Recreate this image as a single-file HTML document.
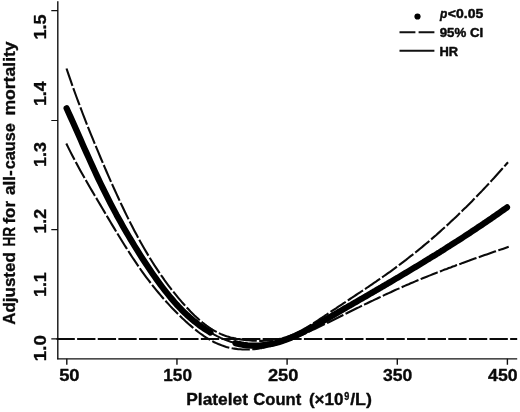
<!DOCTYPE html>
<html><head><meta charset="utf-8"><title>chart</title>
<style>
html,body{margin:0;padding:0;background:#fff;}
svg{display:block;will-change:transform;}
text{font-family:"Liberation Sans",sans-serif;font-weight:bold;fill:#0a0a0a;}
text{stroke:#0a0a0a;stroke-width:0.35px;stroke-linejoin:round;}
.lg text{stroke-width:0.45px;}
</style></head>
<body>
<svg width="520" height="412" viewBox="0 0 520 412">
<rect width="520" height="412" fill="#ffffff"/>
<g stroke="#111" fill="none">
<path d="M57.8,1.2 V359.3" stroke-width="1.4"/>
<path d="M57.1,358.8 H517.2" stroke-width="1.3"/>
<path d="M51.3,10.6 H58 M51.3,120.5 H58 M51.3,229.6 H58 M51.3,338.8 H58" stroke-width="1.2"/>
<path d="M66.8,358.7 V364.8 M176.95,358.7 V364.8 M287.1,358.7 V364.8 M397.3,358.7 V364.8 M507.4,358.7 V364.8" stroke-width="1.4"/>
</g>
<path d="M56.5,339.05 H517.2" stroke="#0a0a0a" stroke-width="2.0" stroke-dasharray="18.32 2.3" fill="none"/>
<g stroke="#0a0a0a" fill="none" stroke-width="2.1" stroke-dasharray="18.3 2.4">
<path d="M66.5,68.5 L68.5,74.4 L70.5,80.2 L72.5,85.9 L74.5,91.5 L76.5,97.0 L78.5,102.4 L80.5,107.7 L82.5,113.0 L84.5,118.2 L86.5,123.3 L88.5,128.3 L90.5,133.3 L92.5,138.2 L94.5,143.1 L96.5,147.9 L98.5,152.7 L100.5,157.5 L102.5,162.2 L104.5,166.8 L106.5,171.5 L108.5,176.1 L110.5,180.6 L112.5,185.1 L114.5,189.5 L116.5,193.9 L118.5,198.3 L120.5,202.6 L122.5,206.8 L124.5,211.0 L126.5,215.1 L128.5,219.1 L130.5,223.1 L132.5,227.0 L134.5,230.9 L136.5,234.6 L138.5,238.4 L140.5,242.0 L142.5,245.5 L144.5,249.0 L146.5,252.4 L148.5,255.8 L150.5,259.0 L152.5,262.2 L154.5,265.4 L156.5,268.4 L158.5,271.4 L160.5,274.4 L162.5,277.2 L164.5,280.1 L166.5,282.8 L168.5,285.5 L170.5,288.1 L172.5,290.7 L174.5,293.2 L176.5,295.7 L178.5,298.1 L180.5,300.4 L182.5,302.8 L184.5,305.0 L186.5,307.2 L188.5,309.3 L190.5,311.4 L192.5,313.4 L194.5,315.4 L196.5,317.3 L198.5,319.1 L200.5,320.8 L202.5,322.5 L204.5,324.1 L206.5,325.6 L208.5,327.0 L210.5,328.4 L212.5,329.7 L214.5,330.8 L216.5,331.9 L218.5,332.9 L220.5,333.9 L222.5,334.7 L224.5,335.5 L226.5,336.2 L228.5,336.8 L230.5,337.4 L232.5,337.9 L234.5,338.3 L236.5,338.7 L238.5,339.1 L240.5,339.4 L242.5,339.7 L244.5,339.9 L246.5,340.1 L248.5,340.3 L250.5,340.5 L252.5,340.6 L254.5,340.7 L256.5,340.8 L258.5,340.9 L260.5,340.9 L262.0,340.9"/>
<path d="M66.3,143.5 L68.3,147.6 L70.3,151.6 L72.3,155.5 L74.3,159.3 L76.3,163.1 L78.3,166.8 L80.3,170.4 L82.3,174.0 L84.3,177.5 L86.3,181.0 L88.3,184.5 L90.3,188.0 L92.3,191.4 L94.3,194.8 L96.3,198.1 L98.3,201.5 L100.3,204.9 L102.3,208.3 L104.3,211.6 L106.3,215.0 L108.3,218.4 L110.3,221.7 L112.3,225.1 L114.3,228.4 L116.3,231.7 L118.3,235.0 L120.3,238.3 L122.3,241.5 L124.3,244.7 L126.3,247.9 L128.3,251.0 L130.3,254.1 L132.3,257.2 L134.3,260.2 L136.3,263.2 L138.3,266.1 L140.3,269.0 L142.3,271.8 L144.3,274.6 L146.3,277.3 L148.3,279.9 L150.3,282.5 L152.3,285.1 L154.3,287.6 L156.3,290.1 L158.3,292.5 L160.3,294.9 L162.3,297.2 L164.3,299.5 L166.3,301.7 L168.3,303.9 L170.3,306.1 L172.3,308.2 L174.3,310.2 L176.3,312.3 L178.3,314.3 L180.3,316.2 L182.3,318.2 L184.3,320.0 L186.3,321.9 L188.3,323.7 L190.3,325.4 L192.3,327.1 L194.3,328.8 L196.3,330.4 L198.3,332.0 L200.3,333.5 L202.3,334.9 L204.3,336.3 L206.3,337.6 L208.3,338.8 L210.3,340.0 L212.3,341.1 L214.3,342.2 L216.3,343.1 L218.3,344.0 L220.3,344.8 L222.3,345.6 L224.3,346.2 L226.3,346.9 L228.3,347.4 L230.3,347.9 L232.3,348.3 L234.3,348.6 L236.3,348.9 L238.3,349.2 L240.3,349.3 L242.3,349.5 L244.3,349.5 L246.3,349.5 L248.3,349.5 L250.3,349.4 L252.3,349.3 L254.3,349.1 L256.3,348.9 L258.3,348.6 L260.3,348.3 L262.0,348.1"/>
<path d="M508.0,162.2 L506.0,164.5 L504.0,166.8 L502.0,169.0 L500.0,171.3 L498.0,173.5 L496.0,175.8 L494.0,178.0 L492.0,180.1 L490.0,182.3 L488.0,184.5 L486.0,186.6 L484.0,188.7 L482.0,190.9 L480.0,192.9 L478.0,195.0 L476.0,197.1 L474.0,199.1 L472.0,201.2 L470.0,203.2 L468.0,205.2 L466.0,207.2 L464.0,209.1 L462.0,211.1 L460.0,213.0 L458.0,215.0 L456.0,216.9 L454.0,218.8 L452.0,220.6 L450.0,222.5 L448.0,224.4 L446.0,226.2 L444.0,228.0 L442.0,229.8 L440.0,231.6 L438.0,233.4 L436.0,235.2 L434.0,236.9 L432.0,238.6 L430.0,240.4 L428.0,242.1 L426.0,243.7 L424.0,245.4 L422.0,247.1 L420.0,248.7 L418.0,250.4 L416.0,252.0 L414.0,253.6 L412.0,255.2 L410.0,256.7 L408.0,258.3 L406.0,259.9 L404.0,261.4 L402.0,262.9 L400.0,264.4 L398.0,265.9 L396.0,267.4 L394.0,268.9 L392.0,270.3 L390.0,271.8 L388.0,273.2 L386.0,274.6 L384.0,276.0 L382.0,277.4 L380.0,278.8 L378.0,280.2 L376.0,281.6 L374.0,282.9 L372.0,284.3 L370.0,285.7 L368.0,287.0 L366.0,288.4 L364.0,289.7 L362.0,291.0 L360.0,292.4 L358.0,293.7 L356.0,295.0 L354.0,296.3 L352.0,297.7 L350.0,299.0 L348.0,300.3 L346.0,301.6 L344.0,303.0 L342.0,304.3 L340.0,305.6 L338.0,306.9 L336.0,308.3 L334.0,309.6 L332.0,310.9 L330.0,312.3 L328.0,313.6 L326.0,315.0 L324.0,316.3 L322.0,317.7 L320.0,319.0 L318.0,320.3 L316.0,321.6 L314.0,322.9 L312.0,324.2 L310.0,325.4 L308.0,326.6 L306.0,327.8 L304.0,329.0 L302.0,330.1 L300.0,331.1 L298.0,332.2 L296.0,333.2 L294.0,334.1 L292.0,335.0 L290.0,335.8 L288.0,336.5 L286.0,337.2 L284.0,337.8 L282.0,338.4 L280.0,338.9 L278.0,339.3 L276.0,339.7 L274.0,340.0 L272.0,340.3 L270.0,340.5 L268.0,340.7 L266.0,340.8 L264.0,340.8 L262.0,340.9" stroke-dashoffset="12.8"/>
<path d="M508.7,246.8 L506.7,247.5 L504.7,248.2 L502.7,248.9 L500.7,249.6 L498.7,250.2 L496.7,250.9 L494.7,251.6 L492.7,252.3 L490.7,253.0 L488.7,253.7 L486.7,254.4 L484.7,255.1 L482.7,255.8 L480.7,256.5 L478.7,257.2 L476.7,257.9 L474.7,258.6 L472.7,259.3 L470.7,260.0 L468.7,260.8 L466.7,261.5 L464.7,262.2 L462.7,262.9 L460.7,263.7 L458.7,264.4 L456.7,265.1 L454.7,265.9 L452.7,266.6 L450.7,267.4 L448.7,268.1 L446.7,268.9 L444.7,269.6 L442.7,270.4 L440.7,271.2 L438.7,272.0 L436.7,272.7 L434.7,273.5 L432.7,274.3 L430.7,275.1 L428.7,275.9 L426.7,276.7 L424.7,277.5 L422.7,278.3 L420.7,279.1 L418.7,280.0 L416.7,280.8 L414.7,281.6 L412.7,282.5 L410.7,283.3 L408.7,284.2 L406.7,285.0 L404.7,285.9 L402.7,286.8 L400.7,287.7 L398.7,288.6 L396.7,289.4 L394.7,290.3 L392.7,291.2 L390.7,292.2 L388.7,293.1 L386.7,294.0 L384.7,294.9 L382.7,295.9 L380.7,296.8 L378.7,297.7 L376.7,298.7 L374.7,299.6 L372.7,300.6 L370.7,301.5 L368.7,302.5 L366.7,303.5 L364.7,304.4 L362.7,305.4 L360.7,306.4 L358.7,307.4 L356.7,308.3 L354.7,309.3 L352.7,310.3 L350.7,311.3 L348.7,312.3 L346.7,313.3 L344.7,314.2 L342.7,315.2 L340.7,316.2 L338.7,317.2 L336.7,318.2 L334.7,319.2 L332.7,320.2 L330.7,321.2 L328.7,322.2 L326.7,323.2 L324.7,324.1 L322.7,325.1 L320.7,326.1 L318.7,327.1 L316.7,328.0 L314.7,329.0 L312.7,329.9 L310.7,330.9 L308.7,331.8 L306.7,332.7 L304.7,333.6 L302.7,334.5 L300.7,335.4 L298.7,336.3 L296.7,337.1 L294.7,338.0 L292.7,338.8 L290.7,339.6 L288.7,340.3 L286.7,341.1 L284.7,341.8 L282.7,342.5 L280.7,343.2 L278.7,343.8 L276.7,344.5 L274.7,345.1 L272.7,345.6 L270.7,346.1 L268.7,346.6 L266.7,347.1 L264.7,347.5 L262.7,347.9 L262.0,348.1" stroke-dashoffset="7.3"/>
</g>
<path d="M66.6,108.3 L68.6,112.7 L70.6,117.1 L72.6,121.6 L74.6,126.1 L76.6,130.6 L78.6,135.1 L80.6,139.6 L82.6,144.2 L84.6,148.7 L86.6,153.1 L88.6,157.6 L90.6,162.0 L92.6,166.4 L94.6,170.8 L96.6,175.1 L98.6,179.4 L100.6,183.5 L102.6,187.7 L104.6,191.7 L106.6,195.7 L108.6,199.7 L110.6,203.6 L112.6,207.4 L114.6,211.1 L116.6,214.9 L118.6,218.5 L120.6,222.1 L122.6,225.7 L124.6,229.2 L126.6,232.6 L128.6,236.0 L130.6,239.4 L132.6,242.7 L134.6,246.0 L136.6,249.2 L138.6,252.4 L140.6,255.6 L142.6,258.7 L144.6,261.8 L146.6,264.8 L148.6,267.8 L150.6,270.8 L152.6,273.7 L154.6,276.6 L156.6,279.4 L158.6,282.1 L160.6,284.8 L162.6,287.5 L164.6,290.1 L166.6,292.6 L168.6,295.1 L170.6,297.6 L172.6,299.9 L174.6,302.2 L176.6,304.5 L178.6,306.6 L180.6,308.7 L182.6,310.8 L184.6,312.7 L186.6,314.6 L188.6,316.4 L190.6,318.2 L192.6,319.9 L194.6,321.6 L196.6,323.1 L198.6,324.7 L200.6,326.1 L202.6,327.5 L204.6,328.9 L206.6,330.2 L208.6,331.4 L210.6,332.6 L212.6,333.7 L214.6,334.8 L216.6,335.9 L218.6,336.8 L220.6,337.8 L222.6,338.7 L224.6,339.5 L226.6,340.3 L228.6,341.0 L230.6,341.7 L232.6,342.3 L234.6,342.9 L236.6,343.5 L238.6,343.9 L240.6,344.3 L242.6,344.7 L244.6,345.0 L246.6,345.3 L248.6,345.5 L250.6,345.6 L252.6,345.7 L254.6,345.7 L256.6,345.7 L258.6,345.6 L260.6,345.5 L262.6,345.3 L264.6,345.1 L266.6,344.8 L268.6,344.5 L270.6,344.1 L272.6,343.7 L274.6,343.2 L276.6,342.7 L278.6,342.1 L280.6,341.5 L282.6,340.9 L284.6,340.2 L286.6,339.5 L288.6,338.7 L290.6,337.9 L292.6,337.0 L294.6,336.2 L296.6,335.2 L298.6,334.3 L300.6,333.3 L302.6,332.3 L304.6,331.3 L306.6,330.3 L308.6,329.2 L310.6,328.1 L312.6,327.0 L314.6,325.9 L316.6,324.8 L318.6,323.7 L320.6,322.5 L322.6,321.4 L324.6,320.2 L326.6,319.0 L328.6,317.9 L330.6,316.7 L332.6,315.5 L334.6,314.4 L336.6,313.2 L338.6,312.0 L340.6,310.9 L342.6,309.7 L344.6,308.6 L346.6,307.4 L348.6,306.3 L350.6,305.1 L352.6,303.9 L354.6,302.8 L356.6,301.6 L358.6,300.5 L360.6,299.3 L362.6,298.1 L364.6,297.0 L366.6,295.8 L368.6,294.7 L370.6,293.5 L372.6,292.3 L374.6,291.2 L376.6,290.0 L378.6,288.9 L380.6,287.7 L382.6,286.5 L384.6,285.4 L386.6,284.2 L388.6,283.0 L390.6,281.8 L392.6,280.7 L394.6,279.5 L396.6,278.3 L398.6,277.1 L400.6,275.9 L402.6,274.7 L404.6,273.6 L406.6,272.4 L408.6,271.2 L410.6,270.0 L412.6,268.8 L414.6,267.6 L416.6,266.3 L418.6,265.1 L420.6,263.9 L422.6,262.7 L424.6,261.5 L426.6,260.3 L428.6,259.0 L430.6,257.8 L432.6,256.6 L434.6,255.3 L436.6,254.1 L438.6,252.8 L440.6,251.6 L442.6,250.3 L444.6,249.1 L446.6,247.8 L448.6,246.5 L450.6,245.3 L452.6,244.0 L454.6,242.7 L456.6,241.4 L458.6,240.2 L460.6,238.9 L462.6,237.6 L464.6,236.3 L466.6,235.0 L468.6,233.6 L470.6,232.3 L472.6,231.0 L474.6,229.7 L476.6,228.3 L478.6,227.0 L480.6,225.7 L482.6,224.3 L484.6,223.0 L486.6,221.6 L488.6,220.3 L490.6,218.9 L492.6,217.5 L494.6,216.1 L496.6,214.7 L498.6,213.4 L500.6,212.0 L502.6,210.5 L504.6,209.1 L506.6,207.7 L507.0,207.4" stroke="#0a0a0a" stroke-width="2" fill="none"/>
<g stroke="#000" fill="none" stroke-width="6.2" stroke-linecap="round" stroke-linejoin="round">
<path d="M66.6,108.3 L68.6,112.7 L70.6,117.1 L72.6,121.6 L74.6,126.1 L76.6,130.6 L78.6,135.1 L80.6,139.6 L82.6,144.2 L84.6,148.7 L86.6,153.1 L88.6,157.6 L90.6,162.0 L92.6,166.4 L94.6,170.8 L96.6,175.1 L98.6,179.4 L100.6,183.5 L102.6,187.7 L104.6,191.7 L106.6,195.7 L108.6,199.7 L110.6,203.6 L112.6,207.4 L114.6,211.1 L116.6,214.9 L118.6,218.5 L120.6,222.1 L122.6,225.7 L124.6,229.2 L126.6,232.6 L128.6,236.0 L130.6,239.4 L132.6,242.7 L134.6,246.0 L136.6,249.2 L138.6,252.4 L140.6,255.6 L142.6,258.7 L144.6,261.8 L146.6,264.8 L148.6,267.8 L150.6,270.8 L152.6,273.7 L154.6,276.6 L156.6,279.4 L158.6,282.1 L160.6,284.8 L162.6,287.5 L164.6,290.1 L166.6,292.6 L168.6,295.1 L170.6,297.6 L172.6,299.9 L174.6,302.2 L176.6,304.5 L178.6,306.6 L180.6,308.7 L182.6,310.8 L184.6,312.7 L186.6,314.6 L188.6,316.4 L190.6,318.2 L192.6,319.9 L194.6,321.6 L196.6,323.1 L198.6,324.7 L200.6,326.1 L202.6,327.5 L204.6,328.9 L206.6,330.2 L208.6,331.4 L210.4,332.5"/>
<path d="M235.5,343.2 L237.5,343.7 L239.5,344.1 L241.5,344.5 L243.5,344.9 L245.5,345.1 L247.5,345.4 L249.5,345.5 L251.5,345.7 L253.5,345.7 L255.5,345.7 L257.5,345.7 L259.5,345.6 L261.5,345.4 L263.5,345.2 L265.5,345.0 L267.5,344.7 L269.5,344.3 L271.5,343.9 L273.5,343.5 L275.5,343.0 L277.5,342.4 L279.5,341.9 L281.5,341.2 L283.5,340.6 L285.5,339.9 L287.5,339.1 L289.5,338.3 L291.5,337.5 L293.5,336.6 L295.5,335.7 L297.5,334.8 L299.5,333.9 L301.5,332.9 L303.5,331.9 L305.5,330.9 L307.5,329.8 L309.5,328.7 L311.5,327.6 L313.5,326.5 L315.5,325.4 L317.5,324.3 L319.5,323.1 L321.5,322.0 L323.5,320.8 L325.5,319.7 L327.5,318.5 L329.5,317.3 L331.5,316.2 L333.5,315.0 L335.5,313.8 L337.5,312.7 L339.5,311.5 L341.5,310.4 L343.5,309.2 L345.5,308.0 L347.5,306.9 L349.5,305.7 L351.5,304.6 L353.5,303.4 L355.5,302.3 L357.5,301.1 L359.5,299.9 L361.5,298.8 L363.5,297.6 L365.5,296.5 L367.5,295.3 L369.5,294.1 L371.5,293.0 L373.5,291.8 L375.5,290.7 L377.5,289.5 L379.5,288.3 L381.5,287.2 L383.5,286.0 L385.5,284.8 L387.5,283.7 L389.5,282.5 L391.5,281.3 L393.5,280.1 L395.5,278.9 L397.5,277.8 L399.5,276.6 L401.5,275.4 L403.5,274.2 L405.5,273.0 L407.5,271.8 L409.5,270.6 L411.5,269.4 L413.5,268.2 L415.5,267.0 L417.5,265.8 L419.5,264.6 L421.5,263.4 L423.5,262.2 L425.5,260.9 L427.5,259.7 L429.5,258.5 L431.5,257.2 L433.5,256.0 L435.5,254.8 L437.5,253.5 L439.5,252.3 L441.5,251.0 L443.5,249.8 L445.5,248.5 L447.5,247.2 L449.5,246.0 L451.5,244.7 L453.5,243.4 L455.5,242.1 L457.5,240.9 L459.5,239.6 L461.5,238.3 L463.5,237.0 L465.5,235.7 L467.5,234.4 L469.5,233.1 L471.5,231.7 L473.5,230.4 L475.5,229.1 L477.5,227.7 L479.5,226.4 L481.5,225.1 L483.5,223.7 L485.5,222.4 L487.5,221.0 L489.5,219.6 L491.5,218.3 L493.5,216.9 L495.5,215.5 L497.5,214.1 L499.5,212.7 L501.5,211.3 L503.5,209.9 L505.5,208.5 L507.0,207.4"/>
</g>
<g font-size="17px">
<text transform="translate(46.1,39.47) rotate(-90)" textLength="24.92" lengthAdjust="spacingAndGlyphs">1.5</text>
<text transform="translate(46.1,106.07) rotate(-90)" textLength="24.81" lengthAdjust="spacingAndGlyphs">1.4</text>
<text transform="translate(46.1,166.97) rotate(-90)" textLength="24.85" lengthAdjust="spacingAndGlyphs">1.3</text>
<text transform="translate(46.1,233.56) rotate(-90)" textLength="24.62" lengthAdjust="spacingAndGlyphs">1.2</text>
<text transform="translate(46.1,296.96) rotate(-90)" textLength="24.70" lengthAdjust="spacingAndGlyphs">1.1</text>
<text transform="translate(46.1,361.22) rotate(-90)" textLength="26.02" lengthAdjust="spacingAndGlyphs">1.0</text>
<text transform="translate(15.0,324.77) rotate(-90)" textLength="72.53" lengthAdjust="spacingAndGlyphs">Adjusted</text>
<text transform="translate(15.0,246.56) rotate(-90)" textLength="19.51" lengthAdjust="spacingAndGlyphs">HR</text>
<text transform="translate(15.0,223.55) rotate(-90)" textLength="22.62" lengthAdjust="spacingAndGlyphs">for</text>
<text transform="translate(15.0,195.07) rotate(-90)" textLength="24.90" lengthAdjust="spacingAndGlyphs">all-</text>
<text transform="translate(15.0,169.30) rotate(-90)" textLength="46.19" lengthAdjust="spacingAndGlyphs">cause</text>
<text transform="translate(15.0,115.59) rotate(-90)" textLength="74.24" lengthAdjust="spacingAndGlyphs">mortality</text>
<text x="59.15" y="380.9" textLength="20.48" lengthAdjust="spacingAndGlyphs">50</text>
<text x="163.28" y="380.9" textLength="28.68" lengthAdjust="spacingAndGlyphs">150</text>
<text x="267.91" y="380.9" textLength="30.49" lengthAdjust="spacingAndGlyphs">250</text>
<text x="382.95" y="380.9" textLength="29.32" lengthAdjust="spacingAndGlyphs">350</text>
<text x="488.08" y="380.9" textLength="29.49" lengthAdjust="spacingAndGlyphs">450</text>
<text x="186.28" y="405.4" textLength="61.68" lengthAdjust="spacingAndGlyphs" font-size="16.6px">Platelet</text>
<text x="253.29" y="405.4" textLength="47.98" lengthAdjust="spacingAndGlyphs" font-size="16.6px">Count</text>
<text x="308.90" y="405.4" textLength="34.67" lengthAdjust="spacingAndGlyphs" font-size="16.6px">(×10</text>
<text x="344.23" y="400.3" textLength="5.05" lengthAdjust="spacingAndGlyphs" font-size="10.2px">9</text>
<text x="350.17" y="405.4" textLength="21.80" lengthAdjust="spacingAndGlyphs" font-size="16.6px">/L)</text>
</g>
<g font-size="12.6px" class="lg">
<circle cx="417.5" cy="16.5" r="3.1" fill="#000"/>
<text x="439.92" y="17.8" textLength="7.33" lengthAdjust="spacingAndGlyphs" font-style="italic">p</text>
<text x="447.86" y="17.8" textLength="35.38" lengthAdjust="spacingAndGlyphs">&lt;0.05</text>
<path d="M399.5,32.2 H415.4 M418.6,32.2 H434.4" stroke="#111" stroke-width="1.9"/>
<text x="439.69" y="36.9" textLength="43.45" lengthAdjust="spacingAndGlyphs">95% CI</text>
<path d="M399.5,50.8 H434.4" stroke="#111" stroke-width="1.9"/>
<text x="439.48" y="55.6" textLength="18.65" lengthAdjust="spacingAndGlyphs">HR</text>
</g>
</svg>
</body></html>
